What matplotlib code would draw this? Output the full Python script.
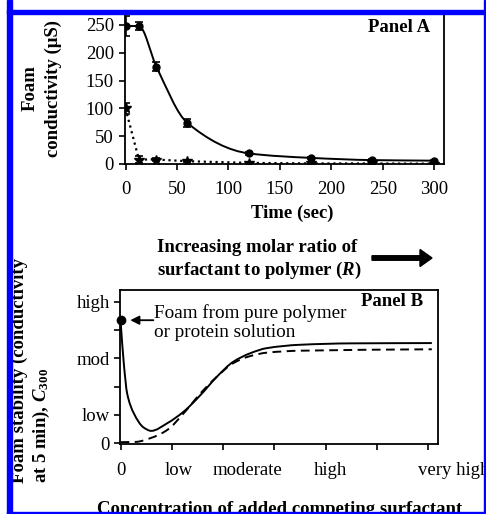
import numpy as np
import matplotlib
matplotlib.use("Agg")
import matplotlib.pyplot as plt
from matplotlib.path import Path
from matplotlib.patches import PathPatch, Rectangle, FancyArrow

plt.rcParams["font.family"] = ["Liberation Serif", "DejaVu Serif"]
plt.rcParams["mathtext.fontset"] = "custom"
plt.rcParams["mathtext.rm"] = "Liberation Serif"
plt.rcParams["mathtext.it"] = "Liberation Serif:italic"
plt.rcParams["mathtext.bf"] = "Liberation Serif:bold"
plt.rcParams["mathtext.bfit"] = "Liberation Serif:italic:bold"

# --- Panel A data (foam conductivity vs time) ---
time_s = [0, 13, 30, 60, 120, 180, 240, 300]
cond_solid = [248, 248, 175, 74, 19, 11, 7, 6]
err_solid = [18, 7.5, 8, 7.5, 3, 2, 2, 2]
cond_dotted = [100, 8, 8, 5, 2, 1, 1, 0.5]
err_dotted = [10, 6, 2, 2, 1, 1, 1, 1]

# --- Panel B data (schematic curves) ---
conc_solid = [0, 0.065, 0.13, 0.26, 0.45, 0.6, 0.91, 1.23, 1.56, 1.88, 2.2, 2.53, 2.85, 3.5, 4.5, 6.07]
stab_solid = [4.35, 2.8, 1.75, 1.05, 0.55, 0.43, 0.7, 1.11, 1.7, 2.35, 2.88, 3.18, 3.36, 3.48, 3.53, 3.54]
conc_dashed = [0, 0.3, 0.58, 0.91, 1.23, 1.56, 1.88, 2.2, 2.53, 2.85, 3.5, 6.07]
stab_dashed = [0.03, 0.04, 0.17, 0.46, 1.05, 1.76, 2.35, 2.83, 3.08, 3.2, 3.27, 3.32]
y_levels = ["0", "low", "", "mod", "", "high"]
x_levels = ["0", "low", "moderate", "high", "very high"]
x_level_pos = [0, 1.13, 2.48, 4.1, 6.5]

W, H = 486, 514


def fx(x):
    return x / W


def fy(y):
    return 1 - y / H


def smooth_path(xs, ys):
    # monotone cubic (Fritsch-Carlson) drawn as Bezier segments
    x = np.asarray(xs, float)
    y = np.asarray(ys, float)
    h = np.diff(x)
    d = np.diff(y) / h
    m = np.zeros_like(x)
    m[0], m[-1] = d[0], d[-1]
    for i in range(1, len(x) - 1):
        if d[i - 1] * d[i] > 0:
            w1 = 2 * h[i] + h[i - 1]
            w2 = h[i] + 2 * h[i - 1]
            m[i] = (w1 + w2) / (w1 / d[i - 1] + w2 / d[i])
    verts = [(x[0], y[0])]
    codes = [Path.MOVETO]
    for i in range(len(x) - 1):
        verts += [(x[i] + h[i] / 3, y[i] + m[i] * h[i] / 3),
                  (x[i + 1] - h[i] / 3, y[i + 1] - m[i + 1] * h[i] / 3),
                  (x[i + 1], y[i + 1])]
        codes += [Path.CURVE4] * 3
    return Path(verts, codes)


fig = plt.figure(figsize=(W / 100, H / 100), dpi=100)
fig.patch.set_facecolor("white")

# ---------------- Panel A ----------------
axA = fig.add_axes([fx(125), fy(164), fx(444) - fx(125), fy(11) - fy(164)])
axA.add_patch(PathPatch(smooth_path(time_s, cond_solid), fill=False, lw=1.4, color="black"))
axA.errorbar(time_s, cond_solid, yerr=err_solid, fmt="o", color="black", ms=5,
             capsize=3, elinewidth=1.2, capthick=1.2)
axA.errorbar(time_s, cond_dotted, yerr=err_dotted, fmt="*", ls=":", color="black", ms=7,
             lw=1.6, capsize=3, elinewidth=1.2, capthick=1.2)
axA.set_xticks(range(0, 301, 50))
axA.set_yticks(range(0, 251, 50))
axA.set_xlim(-0.5, 309.5)
axA.set_ylim(0, 275)
axA.spines["top"].set_visible(False)
for s in axA.spines.values():
    s.set_linewidth(1.3)
axA.tick_params(axis="both", direction="out", length=4, width=1.2, labelsize=13.5)
axA.tick_params(axis="x", pad=8)
axA.tick_params(axis="y", pad=4)
axA.text(296, 246, "Panel A", ha="right", va="center", fontsize=13.5, fontweight="bold")

fig.text(fx(292.5), fy(218), "Time (sec)", ha="center", va="baseline",
         fontsize=13.5, fontweight="bold")
fig.text(fx(41.5), fy(88.5), "Foam\nconductivity (\u03bcS)", ha="center", va="center",
         rotation=90, multialignment="center", linespacing=1.45,
         fontsize=13.5, fontweight="bold")

# ---------------- Panel B ----------------
axB = fig.add_axes([fx(120), fy(444), fx(438) - fx(120), fy(290) - fy(444)])
axB.add_patch(PathPatch(smooth_path(conc_solid, stab_solid), fill=False, lw=1.4, color="black"))
axB.add_patch(PathPatch(smooth_path(conc_dashed, stab_dashed), fill=False, lw=1.4,
                        color="black", ls=(0, (4.5, 2.8))))
axB.plot([conc_solid[0]], [stab_solid[0]], "o", color="black", ms=6, clip_on=False)
axB.set_yticks(range(len(y_levels)))
axB.set_yticklabels(y_levels)
axB.set_xticks(range(7))
axB.set_xticklabels([])
axB.set_xlim(-0.01, 6.19)
axB.set_ylim(-0.035, 5.42)
# category labels sit between the ticks, the last one runs off the picture
for pos, lab in zip(x_level_pos, x_levels):
    axB.text(pos, -0.118, lab, transform=axB.get_xaxis_transform(), ha="center",
             va="top", fontsize=13.5, clip_on=False)
for s in axB.spines.values():
    s.set_linewidth(1.3)
axB.tick_params(axis="both", direction="out", length=4, width=1.2, labelsize=13.5)
axB.tick_params(axis="y", pad=3.5)
axB.annotate("", xy=(0.19, stab_solid[0]), xytext=(0.64, stab_solid[0]),
             arrowprops=dict(arrowstyle="-|>", lw=1.3, color="black",
                             mutation_scale=13, shrinkA=0, shrinkB=0))
axB.text(0.66, 4.26, "Foam from pure polymer\nor protein solution", ha="left",
         va="center", fontsize=13.8, linespacing=1.17)
axB.text(5.9, 5.03, "Panel B", ha="right", va="center", fontsize=13.5, fontweight="bold")

fig.text(fx(157), fy(260), "Increasing molar ratio of\nsurfactant to polymer ($\\mathbfit{R}$)",
         ha="left", va="center", fontsize=13.5, fontweight="bold", linespacing=1.25)
fig.patches.append(FancyArrow(3.72, (H - 258) / 100, 0.60, 0, width=0.045, head_width=0.17,
                              head_length=0.12, length_includes_head=True, color="black",
                              transform=fig.dpi_scale_trans))
fig.text(fx(31.5), fy(483), "Foam stability (conductivity\nat 5 min), $\\mathbfit{C}_{\\mathregular{300}}$",
         ha="center", va="bottom", rotation=90, multialignment="left", linespacing=1.2,
         fontsize=13.5, fontweight="bold")
fig.text(fx(280), fy(514), "Concentration of added competing surfactant", ha="center",
         va="baseline", fontsize=13.5, fontweight="bold")

# blue frame round the figure
blue = "#0000ff"
fig.patches.append(Rectangle((fx(7), fy(514)), fx(5), 1, color=blue, transform=fig.transFigure, zorder=10))
fig.patches.append(Rectangle((fx(7), fy(14)), fx(478) - fx(0), fy(9.5) - fy(14), color=blue,
                             transform=fig.transFigure, zorder=10))
fig.patches.append(Rectangle((fx(483.5), 0), fx(1.5), 1, color=blue, transform=fig.transFigure, zorder=10))
fig.patches.append(Rectangle((fx(7), fy(513)), fx(478), fy(512) - fy(513), color=blue,
                             transform=fig.transFigure, zorder=10))

fig.savefig("out.png", dpi=100)
